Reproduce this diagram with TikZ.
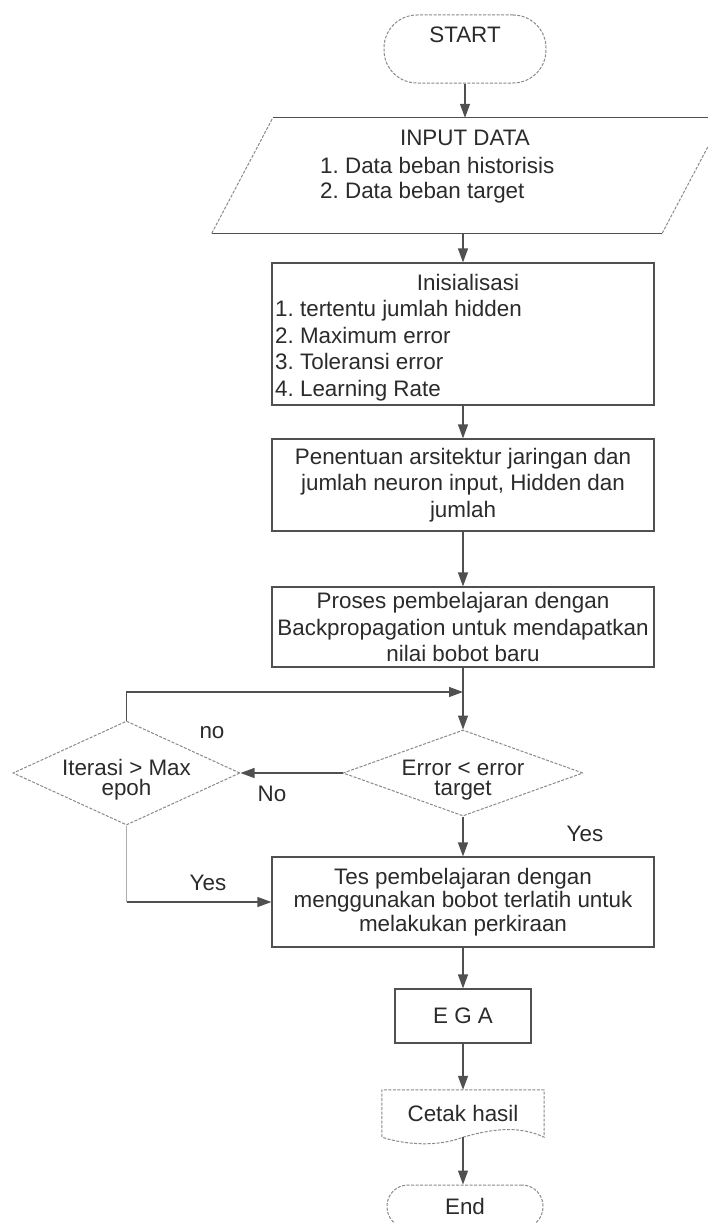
\documentclass[tikz,border=0pt]{standalone}
\usepackage{fontspec}
\setmainfont{Liberation Sans}
\usetikzlibrary{arrows.meta,shapes.geometric,calc}
\definecolor{lc}{HTML}{505050}
\definecolor{tc}{HTML}{2B2B2B}
\definecolor{fc}{HTML}{8A8A8A}
\newcommand\flowfont[1]{\fontsize{22.4pt}{#1}\selectfont}
\frenchspacing

\begin{document}
\begin{tikzpicture}[x=1pt,y=-1pt,
  ln/.style={draw=lc, line width=1.2pt},
  faint/.style={draw=fc, line width=1pt, dash pattern=on 3pt off 1.5pt},
  faintline/.style={draw=fc!70, line width=1pt},
  box/.style={rectangle, ln, inner sep=0pt, minimum width=382pt, align=center, text=tc},
  txt/.style={inner sep=0pt, text=tc, font=\flowfont{26.5pt}},
  arr/.style={ln, -{Triangle[length=14pt,width=10pt]}},
  dec/.style={diamond, faint, inner sep=0pt},
  term/.style={rectangle, faint, inner sep=0pt}
]
\fill[white] (0,0) rectangle (707,1223);
\useasboundingbox (0,0) rectangle (707,1223);

% start terminator
\node[term, rounded corners=33pt, minimum width=162pt, minimum height=68pt,
  label={[txt, yshift=14pt]center:START}] (start) at (465,49) {};

% input parallelogram
\node[minimum width=450pt, minimum height=115pt, inner sep=0pt] (inp) at (467.5,175.5) {};
\draw[ln] ($(inp.south west)+(-30.5,0)$) -- ($(inp.south east)+(-30.5,0)$);
\draw[ln] ($(inp.north west)+(30.5,0)$) -- ($(inp.north east)+(30.5,0)$);
\draw[faint] ($(inp.south west)+(-30.5,0)$) -- ($(inp.north west)+(30.5,0)$);
\draw[faint] ($(inp.south east)+(-30.5,0)$) -- ($(inp.north east)+(30.5,0)$);
\node[txt, anchor=base] (inpH) at (465,145) {INPUT DATA};
\node[txt, anchor=base west] (inp1) at (320,173) {1. Data beban historisis};
\node[txt, anchor=base west] (inp2) at (320,198) {2. Data beban target};

% initialisation box
\node[box, minimum height=142pt] (ini) at (463,334) {};
\node[txt, anchor=base] (iniH) at (468,290) {Inisialisasi};
\node[txt, anchor=base west] (ini1) at (275,316.5) {1. tertentu jumlah hidden};
\node[txt, anchor=base west] (ini2) at (275,343) {2. Maximum error};
\node[txt, anchor=base west] (ini3) at (275,369.5) {3. Toleransi error};
\node[txt, anchor=base west] (ini4) at (275,396) {4. Learning Rate};

% process boxes
\node[box, minimum height=92pt, font=\flowfont{26.5pt}] (arch) at (463,485)
  {Penentuan arsitektur jaringan dan\\jumlah neuron input, Hidden dan\\jumlah};
\node[box, minimum height=80pt, font=\flowfont{26.5pt}] (proc) at (463,627)
  {Proses pembelajaran dengan\\Backpropagation untuk mendapatkan\\nilai bobot baru};

% decisions
\node[dec, minimum width=240pt, minimum height=86pt] (dE) at (463,773) {};
\node[txt, align=center, font=\flowfont{20pt}] (dEt) at (463,780) {Error < error\\target};
\node[dec, minimum width=227pt, minimum height=104pt] (dI) at (126.5,773) {};
\node[txt, align=center, font=\flowfont{20pt}] (dIt) at (126.5,780) {Iterasi > Max\\epoh};

% test box
\node[box, minimum height=90pt, font=\flowfont{23.5pt}] (tes) at (463,902)
  {Tes pembelajaran dengan\\menggunakan bobot terlatih untuk\\melakukan perkiraan};

% EGA box
\node[box, minimum width=136pt, minimum height=54pt, font=\flowfont{26.5pt}] (ega) at (463,1016) {E G A};

% print document
\node[txt, minimum width=162pt, minimum height=47pt] (doc) at (463,1113.5) {Cetak hasil};
\draw[faint] (doc.south west) -- (doc.north west) -- (doc.north east) -- (doc.south east)
  .. controls (520,1126) and (495,1128) .. (doc.south)
  .. controls (440,1146) and (410,1146) .. (doc.south west);

% end terminator
\node[term, txt, rounded corners=21pt, minimum width=156pt, minimum height=43pt] (stop) at (465,1206.5) {End};

% connectors
\draw[arr] (start.south) -- (start.south |- inp.north);
\draw[arr] (ini.north |- inp.south) -- (ini.north);
\draw[arr] (ini.south) -- (arch.north);
\draw[arr] (arch.south) -- (proc.north);
\draw[arr] (proc.south) -- (dE.north);
\coordinate (jn) at (463,692);
\draw[arr] (dI.north) |- (jn);
\draw[arr] (dE.west) -- (dI.east);
\draw[arr] (dE.south) -- (tes.north);
\coordinate (yesTurn) at (dI.south |- tes.west);
\draw[faintline] (dI.south) -- (yesTurn);
\draw[arr] (yesTurn) -- (tes.west);
\draw[arr] (tes.south) -- (ega.north);
\draw[arr] (ega.south) -- (doc.north);
\draw[arr] (doc.south) -- (doc.south |- stop.north);

% branch labels
\node[txt, anchor=base] (lno) at (212,738) {no};
\node[txt, anchor=base] (lNo) at (272,801) {No};
\node[txt, anchor=base] (lyesE) at (585,841) {Yes};
\node[txt, anchor=base] (lyesI) at (208,890) {Yes};
\end{tikzpicture}
\end{document}
